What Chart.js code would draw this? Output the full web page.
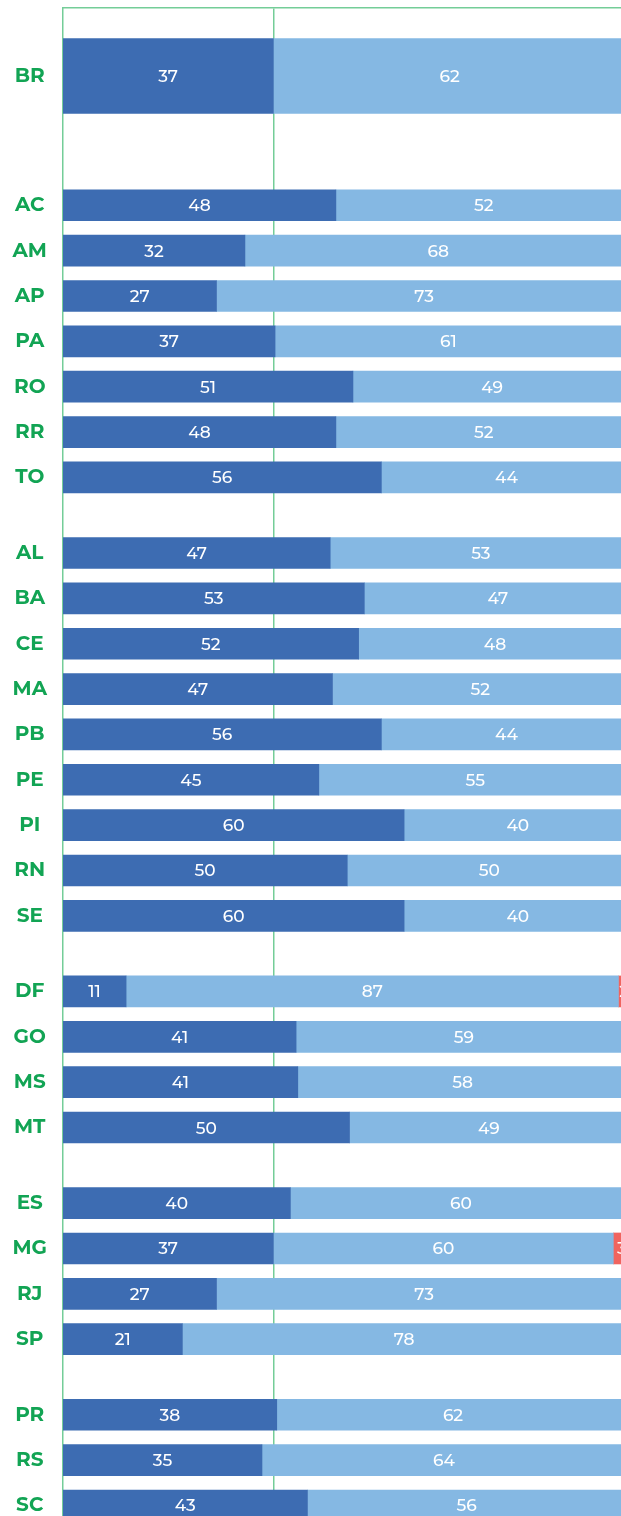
<!DOCTYPE html>
<html>
<head>
<meta charset="utf-8">
<script src="https://cdn.jsdelivr.net/npm/chart.js@4/dist/chart.umd.min.js"></script>
<style>
  html, body { margin: 0; padding: 0; background: #fff; }
  canvas { display: block; }
</style>
</head>
<body>
<canvas id="chart" width="621" height="1516"></canvas>
<script>
// estados agrupados por região (BR = Brasil)
var regions = [
  ['BR'],
  ['AC', 'AM', 'AP', 'PA', 'RO', 'RR', 'TO'],
  ['AL', 'BA', 'CE', 'MA', 'PB', 'PE', 'PI', 'RN', 'SE'],
  ['DF', 'GO', 'MS', 'MT'],
  ['ES', 'MG', 'RJ', 'SP'],
  ['PR', 'RS', 'SC']
];
var states = regions.flat();

// valores (%) na mesma ordem de states
var darkValues  = [37, 48, 32, 27, 37.3, 51, 48, 56, 47, 53, 52, 47.4, 56, 45, 60, 50, 60, 11.1, 41, 41.3, 50.4, 40, 37, 27, 21, 37.6, 35, 43];
var lightValues = [62, 52, 68, 73, 61, 49, 52, 44, 53, 47, 48, 52, 44, 55, 40, 50, 40, 86.6, 59, 58, 49, 60, 59.8, 73, 78, 62, 64, 56];
var redValues   = [null, null, null, null, null, null, null, null, null, null, null, null, null, null, null, null, null, 2, null, null, null, null, 3, null, null, null, null, null];

var DARK = '#3d6cb2', LIGHT = '#85b8e3', RED = '#f0645f';
var GREEN_TXT = '#12a454', GREEN_LINE = '#74cd98';
var FONT = '"Montserrat", "Open Sans", sans-serif';

// posição vertical de cada linha (em alturas de linha)
var FIRST = 1.5, AFTER_FIRST = 2.85, GROUP_GAP = 1.667;
var pos = [];
(function(){
  var p = FIRST;
  regions.forEach(function(g, gi){
    if (gi === 1) p += AFTER_FIRST - 1;
    else if (gi > 1) p += GROUP_GAP - 1;
    g.forEach(function(){ pos.push(p); p += 1; });
  });
})();

function series(values, isBR) {
  var out = [];
  values.forEach(function(v, i){
    if (v === null) return;
    if ((i === 0) !== isBR) return;
    out.push({ x: v, y: pos[i] });
  });
  return out;
}

//rótulos de valor dentro das barras
var valueLabels = {
  id: 'valueLabels',
  afterDatasetsDraw: function(chart) {
    var ctx = chart.ctx;
    ctx.save();
    ctx.font = '500 17px ' + FONT;
    ctx.fillStyle = '#fff';
    ctx.textAlign = 'center';
    ctx.textBaseline = 'middle';
    chart.data.datasets.forEach(function(ds, i){
      chart.getDatasetMeta(i).data.forEach(function(bar, j){
        var v = ds.data[j].x;
        if (!v) return;
        var p = bar.getProps(['x', 'base', 'y'], true);
        ctx.fillText(Math.round(v), (p.x + p.base) / 2, p.y + 1);
      });
    });
    ctx.restore();
  }
};

new Chart(document.getElementById('chart').getContext('2d'), {
  type: 'bar',
  data: {
    datasets: [
      { data: series(darkValues, true),   backgroundColor: DARK,  barThickness: 75 },
      { data: series(lightValues, true),  backgroundColor: LIGHT, barThickness: 75 },
      { data: series(darkValues, false),  backgroundColor: DARK,  barThickness: 31 },
      { data: series(lightValues, false), backgroundColor: LIGHT, barThickness: 31 },
      { data: series(redValues, false),   backgroundColor: RED,   barThickness: 31 }
    ]
  },
  options: {
    indexAxis: 'y',
    responsive: false,
    animation: false,
    devicePixelRatio: 1,
    grouped: false,
    layout: { padding: { top: 8, right: 0, bottom: 0, left: 0 } },
    plugins: { legend: { display: false }, tooltip: { enabled: false } },
    scales: {
      x: {
        type: 'linear',
        position: 'top',
        stacked: true,
        min: 0,
        max: 98.15,
        afterBuildTicks: function(s){ s.ticks = [{ value: darkValues[0] }]; },
        afterFit: function(s){ s.height = 0; s.paddingLeft = 0; s.paddingRight = 0; },
        ticks: { display: false },
        grid: { color: GREEN_LINE, lineWidth: 1.5, drawTicks: false },
        border: { display: true, color: GREEN_LINE, width: 1.5 }
      },
      y: {
        type: 'linear',
        reverse: true,
        offset: false,
        min: 0,
        max: 33.25,
        afterBuildTicks: function(s){ s.ticks = pos.map(function(v){ return { value: v }; }); },
        afterFit: function(s){ s.width = 63; s.paddingTop = 0; s.paddingBottom = 0; },
        ticks: {
          autoSkip: false,
          crossAlign: 'center',
          padding: 16,
          color: GREEN_TXT,
          font: { family: FONT, size: 20, weight: 'bold' },
          callback: function(value, index){ return states[index]; }
        },
        grid: { display: false, drawTicks: false, offset: false },
        border: { display: true, color: GREEN_LINE, width: 1.5 }
      }
    }
  },
  plugins: [valueLabels]
});
</script>
</body>
</html>
